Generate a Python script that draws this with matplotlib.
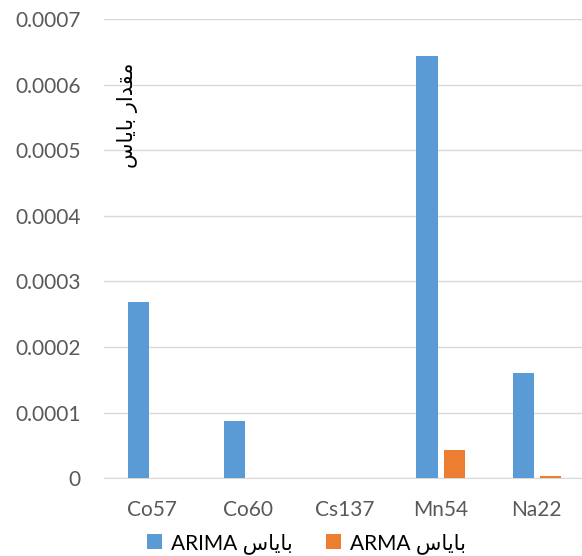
import matplotlib
matplotlib.use("Agg")
import matplotlib.pyplot as plt
import numpy as np

categories = ["Co57", "Co60", "Cs137", "Mn54", "Na22"]
arima_values = [0.000268, 0.000087, 0.0, 0.000644, 0.000161]
arma_values = [0.0, 0.0, 0.0, 0.000043, 0.000003]
yticks = [0, 0.0001, 0.0002, 0.0003, 0.0004, 0.0005, 0.0006, 0.0007]
ytick_labels = ["0", "0.0001", "0.0002", "0.0003", "0.0004", "0.0005", "0.0006", "0.0007"]

# Persian text in shaped presentation forms, visual (left-to-right) order
bias_word = "\uFEB1\uFE8E\uFBFE\uFE8E\uFE91"          # بایاس
ylabel_text = bias_word + " \uFEAD\uFE8D\uFEAA\uFED8\uFEE3"  # مقدار بایاس
label_arima = "ARIMA " + bias_word
label_arma = "ARMA " + bias_word

plt.rcParams['font.family'] = ['Lato', 'DejaVu Sans']

fig = plt.figure(figsize=(5.82, 5.56), dpi=100)
ax = fig.add_axes([0.179, 0.140, 0.826, 0.826])

x = np.arange(len(categories))
w = 0.22
off = 0.142
ax.bar(x - off, arima_values, w, color="#5B9BD5", label=label_arima, zorder=3)
ax.bar(x + off, arma_values, w, color="#ED7D31", label=label_arma, zorder=3)

ax.set_xlim(-0.5, len(categories) - 0.5)
ax.set_ylim(0, 0.0007)
ax.set_yticks(yticks)
ax.set_yticklabels(ytick_labels)
ax.set_xticks(x)
ax.set_xticklabels(categories)
ax.tick_params(axis='both', length=0, labelsize=15, colors="#595959")
ax.tick_params(axis='y', pad=17)
ax.tick_params(axis='x', pad=16)
ax.grid(axis='y', color="#D9D9D9", linewidth=1, zorder=0)
for s in ["top", "right", "left"]:
    ax.spines[s].set_visible(False)
ax.spines["bottom"].set_color("#D9D9D9")

fig.text(0.219, 0.793, ylabel_text, rotation=90, ha='center', va='center',
         fontsize=15, color="black", family=['DejaVu Sans'])

fig.legend(loc='center', bbox_to_anchor=(0.526, 0.023), ncol=2, frameon=False,
           fontsize=15, handlelength=0.75, handleheight=0.75, columnspacing=1.6,
           handletextpad=0.4, borderpad=0.0)

fig.savefig("out.png", dpi=100)
